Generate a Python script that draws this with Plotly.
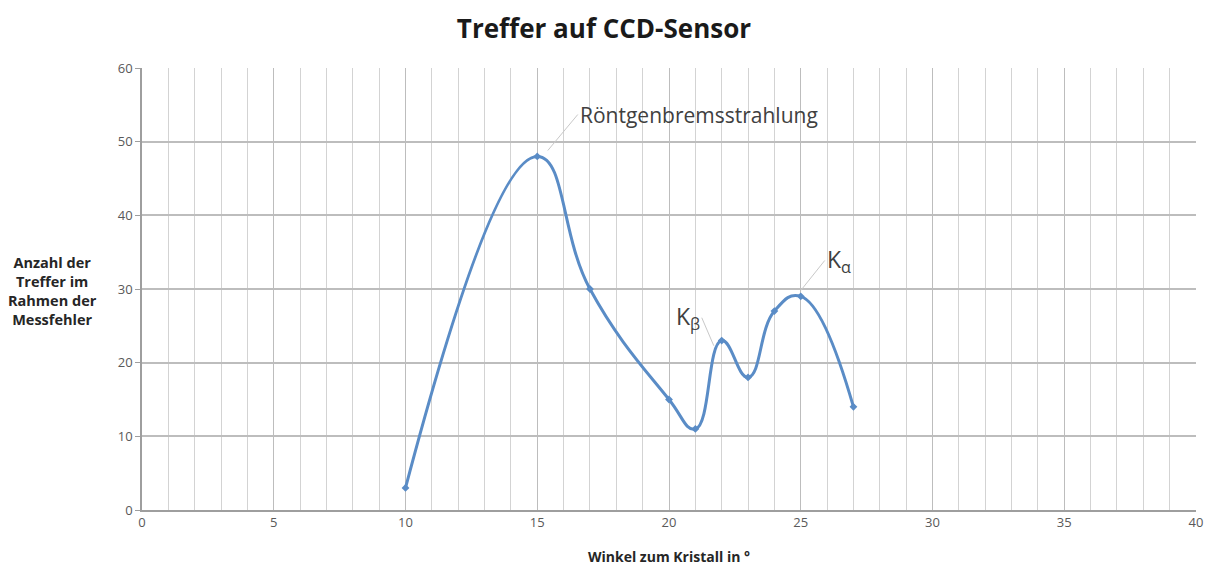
import plotly.graph_objects as go

winkel = [10, 15, 17, 20, 21, 22, 23, 24, 25, 27]
treffer = [3, 48, 30, 15, 11, 23, 18, 27, 29, 14]

x_ticks = [0, 5, 10, 15, 20, 25, 30, 35, 40]
y_ticks = [0, 10, 20, 30, 40, 50, 60]

line_color = "#5A8CC6"
grid_color = "#BDBDBD"
font_fam = "Open Sans, Liberation Sans, sans-serif"

fig = go.Figure()
fig.add_trace(go.Scatter(
    x=winkel, y=treffer, mode="lines+markers",
    line=dict(color=line_color, width=3, shape="spline", smoothing=1.3),
    marker=dict(symbol="diamond", size=6, color=line_color),
    showlegend=False, hoverinfo="x+y",
))

fig.update_layout(
    width=1215, height=570,
    margin=dict(l=134, r=27, t=60, b=68),
    paper_bgcolor="white", plot_bgcolor="white",
    title=dict(text="<b>Treffer auf CCD-Sensor</b>", x=0.4905, xanchor="center",
               y=0.964, yanchor="middle",
               font=dict(family=font_fam, size=26, color="#1a1a1a")),
    font=dict(family=font_fam, color="#595959"),
)

fig.update_xaxes(
    range=[0, 40], tickvals=x_ticks, ticktext=[str(v) for v in x_ticks],
    showgrid=True, gridcolor=grid_color, gridwidth=1,
    minor=dict(dtick=1, showgrid=True, gridcolor="#D3D3D3", gridwidth=1),
    showline=True, linecolor="#9E9E9E", linewidth=1.5,
    ticks="", tickfont=dict(size=13, color="#595959"),
    zeroline=False,
    title=dict(text="<b>Winkel zum Kristall in °</b>", standoff=22,
               font=dict(size=14, color="#262626")),
)
fig.update_yaxes(
    range=[0, 60], tickvals=y_ticks, ticktext=[str(v) for v in y_ticks],
    showgrid=True, gridcolor=grid_color, gridwidth=1.5,
    showline=True, linecolor="#9E9E9E", linewidth=1.5,
    ticks="outside", ticklen=5, tickcolor="#9E9E9E",
    tickfont=dict(size=13, color="#595959"),
    zeroline=False,
)

fig.add_annotation(
    xref="paper", yref="paper", x=-0.085, y=0.495, xanchor="center", yanchor="middle",
    text="<b>Anzahl der<br>Treffer im<br>Rahmen der<br>Messfehler</b>",
    showarrow=False, align="center",
    font=dict(family=font_fam, size=14.5, color="#262626"),
)

ann_font = dict(family=font_fam, size=21, color="#404040")
fig.add_annotation(x=15.4, y=48.8, text="Röntgenbremsstrahlung", showarrow=True,
                   arrowhead=0, arrowwidth=1, arrowcolor="#C8C8C8",
                   ax=30, ay=-36, xanchor="left", font=ann_font)
fig.add_annotation(x=21.7, y=22.3, text="K<sub>β</sub>", showarrow=True,
                   arrowhead=0, arrowwidth=1, arrowcolor="#C8C8C8",
                   ax=-12, ay=-28, xanchor="right", font=dict(family=font_fam, size=23, color="#404040"))
fig.add_annotation(x=25.0, y=29.8, text="K<sub>α</sub>", showarrow=True,
                   arrowhead=0, arrowwidth=1, arrowcolor="#C8C8C8",
                   ax=24, ay=-30, xanchor="left", font=dict(family=font_fam, size=23, color="#404040"))

fig.write_html("out.html")
